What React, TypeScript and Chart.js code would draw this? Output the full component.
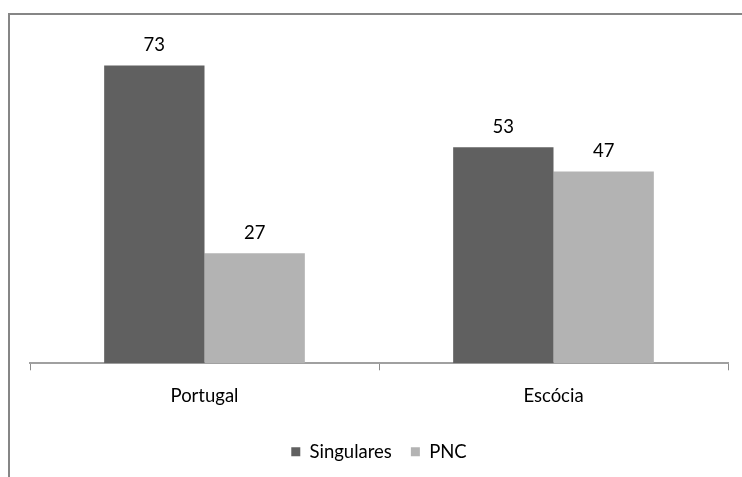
import React, { useEffect, useRef } from "react";
import { Chart, registerables } from "chart.js";

Chart.register(...registerables);

const categories = ["Portugal", "Escócia"];
const seriesNames = ["Singulares", "PNC"];
const singulares = [73, 53];
const pnc = [27, 47];
const yMax = 80;

const FONT = "Lato, 'Open Sans', sans-serif";
const FS = 18.5;

const valueLabels = {
  id: "valueLabels",
  afterDatasetsDraw(chart: any) {
    const ctx = chart.ctx;
    ctx.save();
    ctx.font = `${FS}px ${FONT}`;
    ctx.fillStyle = "#000";
    ctx.textAlign = "center";
    ctx.textBaseline = "bottom";
    chart.data.datasets.forEach((ds: any, i: number) => {
      const meta = chart.getDatasetMeta(i);
      meta.data.forEach((bar: any, j: number) => {
        ctx.fillText(String(ds.data[j]), bar.x, bar.y - 11);
      });
    });
    ctx.restore();
  },
};

export default function App() {
  const ref = useRef<HTMLCanvasElement>(null);
  useEffect(() => {
    document.body.style.margin = "0";
    const chart = new Chart(ref.current!, {
      type: "bar",
      data: {
        labels: categories,
        datasets: [
          { label: seriesNames[0], data: singulares, backgroundColor: "#606060" },
          { label: seriesNames[1], data: pnc, backgroundColor: "#b3b3b3" },
        ],
      },
      options: {
        animation: false,
        responsive: false,
        maintainAspectRatio: false,
        layout: { padding: { left: 30, right: 14, top: 37, bottom: 6 } },
        datasets: { bar: { categoryPercentage: 0.575, barPercentage: 1 } } as any,
        scales: {
          y: { display: false, min: 0, max: yMax },
          x: {
            grid: { drawOnChartArea: false, tickLength: 7, color: "#8c8c8c" },
            border: { color: "#a0a0a0", width: 2 },
            ticks: { color: "#000", font: { family: FONT, size: FS }, padding: 15 },
            afterFit(scale: any) {
              scale.height += 1;
            },
          },
        },
        plugins: {
          legend: {
            position: "bottom",
            labels: {
              boxWidth: 9,
              boxHeight: 9,
              color: "#000",
              font: { family: FONT, size: FS },
              padding: 19,
            },
          },
          tooltip: { enabled: false },
        },
      },
      plugins: [valueLabels],
    });
    return () => chart.destroy();
  }, []);
  return (
    <div style={{ position: "relative", width: 742, height: 477, background: "#fff" }}>
      <div
        style={{
          position: "absolute",
          left: 8,
          top: 13,
          right: 0,
          bottom: 0,
          borderLeft: "2px solid #868686",
          borderTop: "2px solid #868686",
        }}
      />
      <canvas ref={ref} width={742} height={477} style={{ position: "absolute", left: 0, top: 0 }} />
    </div>
  );
}
